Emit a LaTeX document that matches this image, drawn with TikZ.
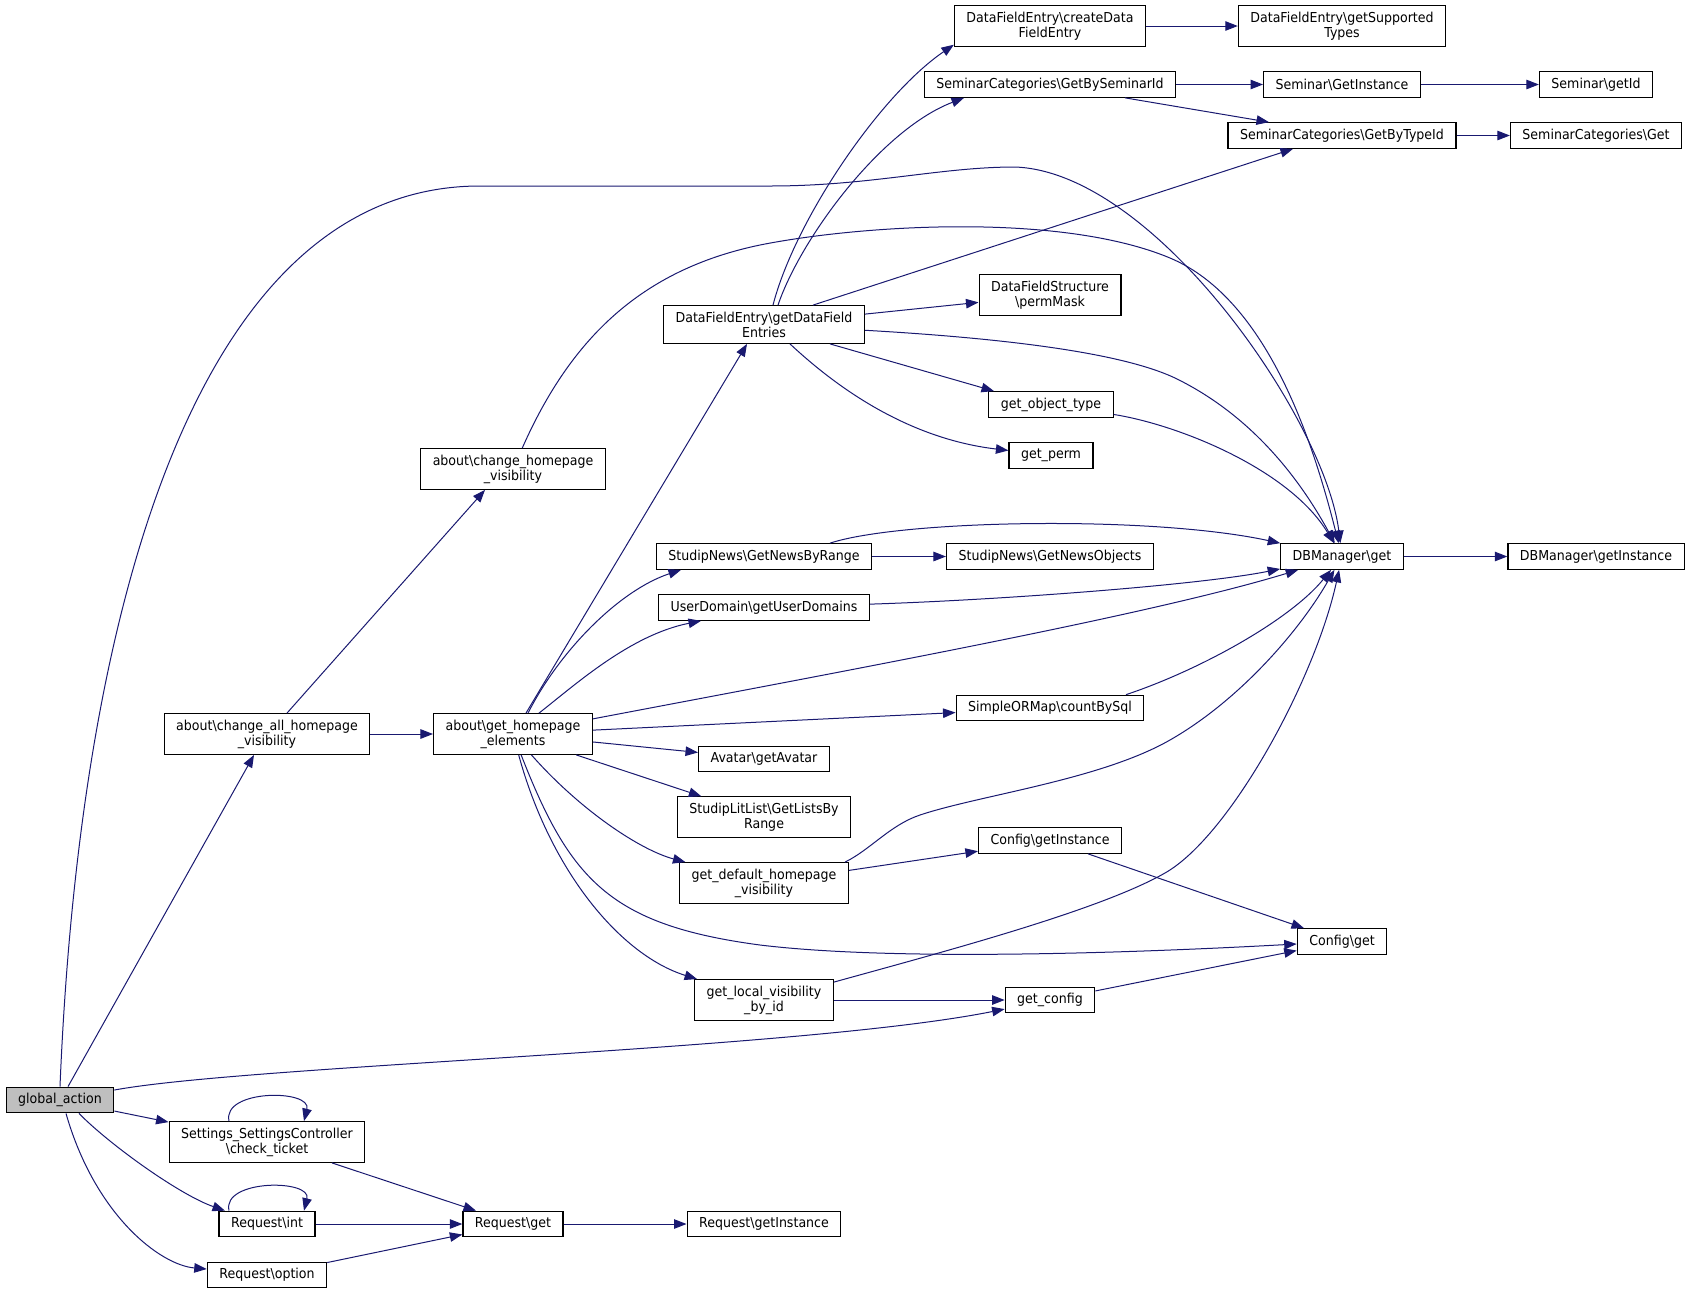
\documentclass[tikz,border=0pt]{standalone}
\usepackage{fontspec}
\setmainfont{DejaVu Sans}[FakeStretch=0.92]
\usetikzlibrary{arrows.meta}
\definecolor{edgeblue}{HTML}{191970}
\definecolor{rootgray}{HTML}{BFBFBF}

\begin{document}
\begin{tikzpicture}[x=1pt, y=-1pt,
	fn/.style={draw=black, line width=1.2pt, fill=white, rectangle, inner xsep=12pt, inner ysep=6pt, minimum height=25.5pt, align=center, font=\fontsize{13.7}{15}\selectfont},
	root/.style={fn, fill=rootgray},
	call/.style={draw=edgeblue, line width=1pt, -{Triangle[length=12.5pt, width=9.5pt]}}]
	\useasboundingbox (0,0) rectangle (1691,1294);
	\node[root] (0) at (60, 1100) {global\_action};
	\node[fn] (1) at (267, 734) {about\textbackslash change\_all\_homepage\\\_visibility};
	\node[fn] (2) at (267, 1142) {Settings\_SettingsController\\\textbackslash check\_ticket};
	\node[fn] (3) at (267, 1224) {Request\textbackslash int};
	\node[fn] (4) at (267, 1275) {Request\textbackslash option};
	\node[fn] (5) at (513, 469) {about\textbackslash change\_homepage\\\_visibility};
	\node[fn] (6) at (513, 734) {about\textbackslash get\_homepage\\\_elements};
	\node[fn] (7) at (513, 1224) {Request\textbackslash get};
	\node[fn] (8) at (764, 324.5) {DataFieldEntry\textbackslash getDataField\\Entries};
	\node[fn] (9) at (764, 556.5) {StudipNews\textbackslash GetNewsByRange};
	\node[fn] (10) at (764, 607.5) {UserDomain\textbackslash getUserDomains};
	\node[fn] (11) at (764, 759) {Avatar\textbackslash getAvatar};
	\node[fn] (12) at (764, 817) {StudipLitList\textbackslash GetListsBy\\Range};
	\node[fn] (13) at (764, 883) {get\_default\_homepage\\\_visibility};
	\node[fn] (14) at (764, 1000) {get\_local\_visibility\\\_by\_id};
	\node[fn] (15) at (764, 1224) {Request\textbackslash getInstance};
	\node[fn] (16) at (1050, 26) {DataFieldEntry\textbackslash createData\\FieldEntry};
	\node[fn] (17) at (1050, 84.5) {SeminarCategories\textbackslash GetBySeminarId};
	\node[fn] (18) at (1050, 295) {DataFieldStructure\\\textbackslash permMask};
	\node[fn] (19) at (1051, 404.5) {get\_object\_type};
	\node[fn] (20) at (1051, 455.5) {get\_perm};
	\node[fn] (21) at (1050, 556.5) {StudipNews\textbackslash GetNewsObjects};
	\node[fn] (22) at (1050, 708) {SimpleORMap\textbackslash countBySql};
	\node[fn] (23) at (1050, 840.5) {Config\textbackslash getInstance};
	\node[fn] (24) at (1050, 1000) {get\_config};
	\node[fn] (25) at (1342, 26) {DataFieldEntry\textbackslash getSupported\\Types};
	\node[fn] (26) at (1342, 84.5) {Seminar\textbackslash GetInstance};
	\node[fn] (27) at (1342, 135.5) {SeminarCategories\textbackslash GetByTypeId};
	\node[fn] (28) at (1342, 556.5) {DBManager\textbackslash get};
	\node[fn] (29) at (1342, 941.5) {Config\textbackslash get};
	\node[fn] (30) at (1596, 84.5) {Seminar\textbackslash getId};
	\node[fn] (31) at (1596, 135.5) {SeminarCategories\textbackslash Get};
	\node[fn] (32) at (1596, 556.5) {DBManager\textbackslash getInstance};
	\draw[call] (0.north) .. controls (80,600) and (200,186) .. (480,186) -- (770,186) .. controls (870,186) and (940,167) .. (1015,167) .. controls (1155,172) and (1325,420) .. (28);
	\draw[call] ([xshift=8pt]0.north) to ([xshift=-13pt]1.south);
	\draw[call] (0) .. controls (250,1065) and (800,1050) .. (24);
	\draw[call] (0) to (2);
	\draw[call] ([xshift=19pt]0.south) .. controls (110,1145) and (180,1195) .. ([xshift=-42pt]3.north);
	\draw[call] ([xshift=6pt]0.south) .. controls (95,1215) and (160,1265) .. ([yshift=6pt]4.west);
	\draw[call] ([xshift=-38pt]2.north) .. controls (222,1089) and (312,1089) .. ([xshift=37pt]2.north);
	\draw[call] ([xshift=65pt]2.south) to ([xshift=-37pt]7.north);
	\draw[call] ([xshift=-38pt]3.north) .. controls (222,1179) and (312,1179) .. ([xshift=37pt]3.north);
	\draw[call] (3) to (7);
	\draw[call] (4) to (7);
	\draw[call] (7) to (15);
	\draw[call] ([xshift=20pt]1.north) to ([xshift=-28pt]5.south);
	\draw[call] (1) to (6);
	\draw[call] (5) .. controls (570,340) and (640,270) .. (760,245) .. controls (860,225) and (1060,212) .. (1170,258) .. controls (1270,300) and (1315,450) .. (28);
	\draw[call] ([xshift=13pt]6.north) to ([xshift=-17pt]8.south);
	\draw[call] ([xshift=15pt]6.north) .. controls (560,650) and (620,590) .. ([xshift=-83pt]9.south);
	\draw[call] ([xshift=26pt]6.north) .. controls (575,685) and (630,635) .. ([xshift=-63pt]10.south);
	\draw[call] (6) .. controls (850,670) and (1150,615) .. (28);
	\draw[call] (6) to (22);
	\draw[call] (6) to (11);
	\draw[call] (6) to (12);
	\draw[call] (6) .. controls (580,810) and (640,850) .. (13);
	\draw[call] (6) .. controls (570,880) and (610,925) .. (760,945) .. controls (900,962) and (1150,952) .. (29);
	\draw[call] (6) .. controls (550,870) and (620,955) .. (14);
	\draw[call] ([xshift=9pt]8.north) .. controls (795,220) and (880,95) .. ([yshift=2pt]16.south west);
	\draw[call] ([xshift=14pt]8.north) .. controls (800,240) and (880,130) .. ([xshift=-86pt]17.south);
	\draw[call] ([xshift=49pt]8.north) to ([xshift=-49pt]27.south);
	\draw[call] (8) to (18);
	\draw[call] (8) .. controls (1000,338) and (1120,352) .. (1175,378) .. controls (1245,412) and (1295,470) .. (28);
	\draw[call] ([xshift=66pt]8.south) to ([xshift=-57pt]19.north);
	\draw[call] ([xshift=26pt]8.south) .. controls (850,400) and (920,440) .. (20);
	\draw[call] (16) to (25);
	\draw[call] (17) to (26);
	\draw[call] ([xshift=75pt]17.south) to ([xshift=-73pt]27.north);
	\draw[call] (26) to (30);
	\draw[call] (27) to (31);
	\draw[call] (19) .. controls (1180,425) and (1290,470) .. (28);
	\draw[call] (9) to (21);
	\draw[call] ([xshift=66pt]9.north) .. controls (900,520) and (1150,515) .. (28);
	\draw[call] (10) .. controls (1000,600) and (1200,585) .. (28);
	\draw[call] ([xshift=76pt]22.north) .. controls (1200,670) and (1290,620) .. (28);
	\draw[call] ([xshift=81pt]13.north) .. controls (870,850) and (890,825) .. (920,815) .. controls (980,795) and (1100,780) .. (1170,740) .. controls (1240,700) and (1300,630) .. (28);
	\draw[call] (13) to (23);
	\draw[call] ([xshift=38pt]23.south) to ([xshift=-38pt]29.north);
	\draw[call] ([yshift=-3pt]14.north east) .. controls (950,950) and (1100,910) .. (1165,873) .. controls (1230,836) and (1315,680) .. (28);
	\draw[call] (14) to (24);
	\draw[call] (24) to (29);
	\draw[call] (28) to (32);
\end{tikzpicture}
\end{document}
